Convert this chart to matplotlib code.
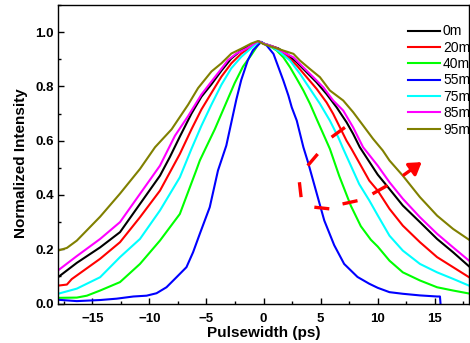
import matplotlib
matplotlib.use('Agg')
import matplotlib.pyplot as plt
from matplotlib.ticker import MultipleLocator

# pulse profiles (time in ps, normalized intensity)
x_0m = [-18, -16.35, -14.31, -12.57, -10.82, -9.07, -8.2, -7.33, -6.31, -5.44, -4.56, -3.69, -2.82, -1.95, -0.78, -0.4,
        0.0, 0.6, 1.3, 2.03, 2.91, 3.78, 4.65, 5.52, 6.4, 7.27, 7.85, 8.43, 10.0, 11.03, 12.2, 13.7, 15.2, 16.6, 18]
y_0m = [0.097, 0.15, 0.207, 0.263, 0.367, 0.471, 0.54, 0.615, 0.70, 0.762, 0.808, 0.858, 0.903, 0.933, 0.960, 0.966,
        0.958, 0.950, 0.940, 0.920, 0.889, 0.852, 0.815, 0.772, 0.723, 0.668, 0.625, 0.576, 0.475, 0.422, 0.361, 0.30, 0.238, 0.189, 0.137]

x_20m = [-18, -17.22, -16.8, -14.31, -12.57, -10.82, -9.07, -7.33, -6.31, -5.44, -4.56, -3.69, -2.82, -1.95, -0.78, -0.4,
         0.0, 0.6, 1.3, 2.03, 2.91, 3.78, 4.65, 5.52, 6.1, 6.69, 7.27, 7.7, 9.26, 10.0, 11.03, 12.2, 13.7, 15.2, 16.6, 18]
y_20m = [0.066, 0.07, 0.09, 0.165, 0.226, 0.318, 0.416, 0.551, 0.642, 0.715, 0.776, 0.836, 0.885, 0.921, 0.955, 0.965,
         0.958, 0.950, 0.938, 0.913, 0.877, 0.834, 0.791, 0.741, 0.699, 0.649, 0.60, 0.570, 0.453, 0.416, 0.349, 0.287, 0.226, 0.171, 0.134, 0.097]

x_40m = [-18, -16.35, -15.47, -14.31, -12.57, -10.82, -9.07, -7.33, -5.9, -5.58, -5.15, -4.27, -3.4, -2.53, -1.8, -1.08, -0.45, -0.2,
         0.0, 0.5, 1.16, 1.74, 2.33, 2.91, 3.49, 4.07, 4.65, 5.23, 5.81, 6.63, 7.65, 8.52, 9.4, 10.0, 11.03, 12.2, 13.7, 15.2, 16.6, 18]
y_40m = [0.021, 0.022, 0.029, 0.048, 0.079, 0.146, 0.232, 0.33, 0.49, 0.527, 0.565, 0.642, 0.727, 0.812, 0.873, 0.915, 0.955, 0.964,
         0.958, 0.950, 0.932, 0.907, 0.870, 0.828, 0.785, 0.736, 0.680, 0.625, 0.570, 0.47, 0.36, 0.285, 0.235, 0.21, 0.158, 0.115, 0.085, 0.06, 0.048, 0.037]

x_55m = [-18, -16.35, -14.31, -12.86, -11.4, -10.24, -9.37, -8.5, -7.62, -6.75, -6.17, -5.58, -4.71, -3.99, -3.26, -2.82, -2.38,
         -1.95, -1.37, -0.93, -0.49, -0.2, 0.29, 0.87, 1.31, 1.74, 2.18, 2.47, 2.91, 3.2, 3.49, 3.9, 4.59, 5.32, 6.19, 7.06,
         8.23, 9.26, 10.0, 11.03, 12.2, 13.7, 15.2, 15.45, 15.5]
y_55m = [0.014, 0.009, 0.013, 0.018, 0.026, 0.029, 0.038, 0.06, 0.097, 0.134, 0.189, 0.257, 0.355, 0.49, 0.582, 0.667, 0.752,
         0.824, 0.897, 0.933, 0.952, 0.964, 0.950, 0.920, 0.870, 0.821, 0.766, 0.723, 0.674, 0.625, 0.576, 0.52, 0.416, 0.306, 0.215, 0.146,
         0.098, 0.073, 0.058, 0.042, 0.036, 0.030, 0.026, 0.026, 0.0]

x_75m = [-18, -16.35, -14.31, -12.57, -10.82, -9.07, -7.33, -6.31, -5.44, -4.56, -3.69, -2.82, -1.95, -0.78, -0.4,
         0.0, 0.6, 1.45, 2.33, 3.2, 4.07, 4.94, 5.81, 6.54, 6.98, 8.38, 9.26, 10.0, 11.03, 12.2, 13.7, 15.2, 16.6, 18]
y_75m = [0.036, 0.055, 0.097, 0.171, 0.238, 0.343, 0.465, 0.57, 0.655, 0.733, 0.806, 0.867, 0.909, 0.952, 0.965,
         0.958, 0.950, 0.926, 0.895, 0.846, 0.791, 0.736, 0.674, 0.613, 0.570, 0.44, 0.38, 0.325, 0.25, 0.195, 0.146, 0.115, 0.091, 0.066]

x_85m = [-18, -16.35, -14.31, -12.57, -10.82, -9.07, -7.76, -6.6, -5.44, -4.56, -3.69, -3.11, -2.38, -1.51, -0.64, -0.4,
         0.0, 0.6, 1.2, 1.74, 2.62, 3.49, 4.36, 5.23, 6.1, 6.98, 7.85, 8.43, 8.72, 10.0, 11.03, 12.2, 13.7, 15.2, 16.6, 18]
y_85m = [0.122, 0.175, 0.238, 0.30, 0.404, 0.508, 0.618, 0.691, 0.770, 0.818, 0.865, 0.897, 0.921, 0.939, 0.962, 0.966,
         0.958, 0.950, 0.940, 0.926, 0.907, 0.870, 0.834, 0.797, 0.748, 0.711, 0.649, 0.60, 0.576, 0.508, 0.447, 0.386, 0.318, 0.257, 0.207, 0.158]

x_95m = [-18, -17.22, -16.35, -14.31, -12.57, -10.82, -9.5, -8.05, -6.6, -5.73, -4.56, -3.69, -2.82, -1.95, -1.08, -0.5,
         0.0, 0.87, 1.74, 2.62, 3.2, 4.07, 4.94, 5.81, 6.98, 7.85, 8.72, 9.59, 10.44, 11.03, 12.2, 13.7, 15.2, 16.6, 18]
y_95m = [0.195, 0.205, 0.232, 0.32, 0.405, 0.496, 0.576, 0.642, 0.733, 0.794, 0.855, 0.885, 0.921, 0.939, 0.958, 0.967,
         0.956, 0.944, 0.932, 0.920, 0.895, 0.864, 0.834, 0.785, 0.748, 0.705, 0.656, 0.607, 0.564, 0.527, 0.471, 0.392, 0.324, 0.275, 0.235]

labels = ['0m', '20m', '40m', '55m', '75m', '85m', '95m']
colors = ['black', 'red', '#00ff00', 'blue', 'cyan', 'magenta', '#808000']

# hand drawn dashed arrow (dash pieces)
dash_x = [[7.13, 5.96], [4.74, 3.87], [3.14, 3.29], [4.45, 5.76], [6.92, 8.23], [9.54, 10.85]]
dash_y = [[0.649, 0.613], [0.551, 0.508], [0.447, 0.392], [0.355, 0.349], [0.367, 0.379], [0.404, 0.435]]

plt.rcParams['font.family'] = ['Liberation Sans', 'DejaVu Sans']

fig = plt.figure(figsize=(4.7, 3.43), dpi=100)
ax = fig.add_axes([0.1234, 0.115, 0.8746, 0.8705])

xs = [x_0m, x_20m, x_40m, x_55m, x_75m, x_85m, x_95m]
ys = [y_0m, y_20m, y_40m, y_55m, y_75m, y_85m, y_95m]
for x, y, c, lab in zip(xs, ys, colors, labels):
    ax.plot(x, y, color=c, lw=1.5, label=lab)

for dx, dy in zip(dash_x, dash_y):
    ax.plot(dx, dy, color='red', lw=2.4, solid_capstyle='butt')
ax.annotate('', xy=(14.05, 0.527), xytext=(12.1, 0.468),
            arrowprops=dict(arrowstyle='-|>,head_length=0.7,head_width=0.45', color='red', lw=2.4))

ax.set_xlim(-18, 18)
ax.set_ylim(0, 1.1)
ax.xaxis.set_major_locator(MultipleLocator(5))
ax.xaxis.set_minor_locator(MultipleLocator(2.5))
ax.yaxis.set_major_locator(MultipleLocator(0.2))
ax.yaxis.set_minor_locator(MultipleLocator(0.1))
ax.tick_params(which='both', direction='in', width=1)
ax.tick_params(which='major', length=4.5, labelsize=9.5)
ax.tick_params(which='minor', length=2.5)
ax.tick_params(axis='x', pad=6.5)
ax.tick_params(axis='y', pad=3)
for lbl in ax.get_xticklabels() + ax.get_yticklabels():
    lbl.set_fontweight('bold')
for s in ax.spines.values():
    s.set_linewidth(1.0)

ax.set_xlabel('Pulsewidth (ps)', fontsize=11, fontweight='bold')
ax.set_ylabel('Normalized Intensity', fontsize=11, fontweight='bold')
ax.xaxis.set_label_coords(0.5, -0.075)
ax.yaxis.set_label_coords(-0.072, 0.47)

ax.legend(loc='upper left', bbox_to_anchor=(0.852, 0.935), frameon=False, fontsize=10,
          borderpad=0, borderaxespad=0, handlelength=2.3, handletextpad=0.2, labelspacing=0.17)

plt.savefig('out.png', dpi=100)
